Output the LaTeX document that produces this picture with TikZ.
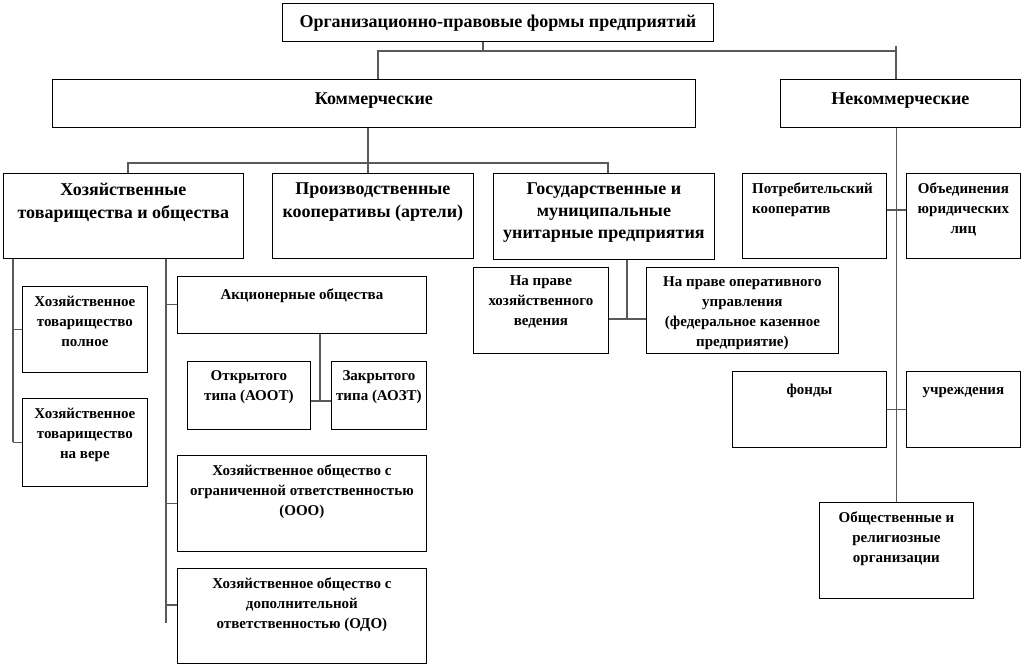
\documentclass[tikz,border=0pt]{standalone}
\usepackage{fontspec}
\setmainfont{Liberation Serif}
\begin{document}
\begin{tikzpicture}[x=1pt, y=-1pt,
    box/.style = {draw, line width=0.8pt, anchor=north west, inner sep=0pt},
    bigtxt/.style = {font=\bfseries\fontsize{18}{23}\selectfont},
    smalltxt/.style = {font=\bfseries\fontsize{15}{20}\selectfont},
    txt/.style = {anchor=north, yshift=-9.5pt, align=center, inner sep=0pt, execute at begin node=\strut},
    link/.style = {draw=black!65, line width=1.1pt}]
  \useasboundingbox (0,0) rectangle (1024,667);
  % top levels
  \node[box, minimum width=431pt, minimum height=38pt, label={[txt, bigtxt, yshift=1.5pt]north:Организационно-правовые формы предприятий}] (orgforms) at (282,3) {};
  \node[box, minimum width=643pt, minimum height=48pt, label={[txt, bigtxt]north:Коммерческие}] (comm) at (52,79) {};
  \node[box, minimum width=240pt, minimum height=48pt, label={[txt, bigtxt]north:Некоммерческие}] (noncomm) at (780,79) {};
  % commercial
  \node[box, minimum width=240pt, minimum height=85pt, label={[txt, bigtxt]north:Хозяйственные\\товарищества и общества}] (hto) at (3,173) {};
  \node[box, minimum width=201pt, minimum height=85pt, label={[txt, bigtxt]north:Производственные\\кооперативы (артели)}] (coop) at (272,173) {};
  \node[box, minimum width=221pt, minimum height=86pt, label={[txt, bigtxt, font=\bfseries\fontsize{18}{22}\selectfont]north:Государственные и\\муниципальные\\унитарные предприятия}] (unit) at (493,173) {};
  \node[box, minimum width=125pt, minimum height=86pt, label={[txt, smalltxt]north:Хозяйственное\\товарищество\\полное}] (fullp) at (22,286) {};
  \node[box, minimum width=125pt, minimum height=88pt, label={[txt, smalltxt]north:Хозяйственное\\товарищество\\на вере}] (limp) at (22,398) {};
  \node[box, minimum width=249pt, minimum height=57pt, label={[txt, smalltxt]north:Акционерные общества}] (jsc) at (177,276) {};
  \node[box, minimum width=123pt, minimum height=68pt, label={[txt, smalltxt]north:Открытого\\типа (АООТ)}] (open) at (187,361) {};
  \node[box, minimum width=95pt, minimum height=68pt, label={[txt, smalltxt]north:Закрытого\\типа (АОЗТ)}] (closed) at (331,361) {};
  \node[box, minimum width=249pt, minimum height=96pt, label={[txt, smalltxt]north:Хозяйственное общество с\\ограниченной ответственностью\\(ООО)}] (llc) at (177,455) {};
  \node[box, minimum width=249pt, minimum height=95pt, label={[txt, smalltxt]north:Хозяйственное общество с\\дополнительной\\ответственностью (ОДО)}] (alc) at (177,568) {};
  \node[box, minimum width=135pt, minimum height=86pt, label={[txt, smalltxt, yshift=1pt]north:На праве\\хозяйственного\\ведения}] (econ) at (473,267) {};
  \node[box, minimum width=192pt, minimum height=86pt, label={[txt, smalltxt]north:На праве оперативного\\управления\\(федеральное казенное\\предприятие)}] (oper) at (646,267) {};
  % non-commercial
  \node[box, minimum width=144pt, minimum height=85pt, label={[txt, smalltxt, anchor=north west, align=left, xshift=10pt]north west:Потребительский\\кооператив}] (consumer) at (742,173) {};
  \node[box, minimum width=114pt, minimum height=85pt, label={[txt, smalltxt]north:Объединения\\юридических\\лиц}] (union) at (906,173) {};
  \node[box, minimum width=154pt, minimum height=76pt, label={[txt, smalltxt]north:фонды}] (funds) at (732,371) {};
  \node[box, minimum width=114pt, minimum height=76pt, label={[txt, smalltxt]north:учреждения}] (inst) at (906,371) {};
  \node[box, minimum width=154pt, minimum height=96pt, label={[txt, smalltxt]north:Общественные и\\религиозные\\организации}] (relig) at (819,502) {};
  % connectors
  \coordinate (s0) at (483,51);
  \coordinate (s0l) at (378,51);
  \coordinate (s0r) at (896,46);
  \draw[link] (orgforms.south -| s0) -- (s0);
  \draw[link] (comm.north -| s0l) -- (s0l) -- (s0 -| s0r);
  \draw[link] (s0r) -- (s0r |- noncomm.north);
  \coordinate (s1) at (368,163);
  \coordinate (s1l) at (128,163);
  \coordinate (s1r) at (608,163);
  \draw[link] (comm.south -| s1) -- (coop.north -| s1);
  \draw[link] (hto.north -| s1l) -- (s1l) -- (s1r) -- (unit.north -| s1r);
  \coordinate (c1) at (13,442);
  \coordinate (c2) at (166,623);
  \coordinate (alcin) at (177,605);
  \draw[link] (hto.south -| c1) -- (c1);
  \draw[link] (c1 |- fullp.west) -- (fullp.west);
  \draw[link] (c1 |- limp.west) -- (limp.west);
  \draw[link] (hto.south -| c2) -- (c2);
  \draw[link] (c2 |- jsc.west) -- (jsc.west);
  \draw[link] (c2 |- llc.west) -- (llc.west);
  \draw[link] (c2 |- alcin) -- (alcin);
  \coordinate (s2) at (320,401);
  \draw[link] (jsc.south -| s2) -- (s2);
  \draw[link] (open.east |- s2) -- (closed.west |- s2);
  \coordinate (s3) at (627,319);
  \draw[link] (unit.south -| s3) -- (s3);
  \draw[link] (econ.east |- s3) -- (oper.west |- s3);
  \coordinate (s4) at (0,210);
  \draw[link] (relig.north |- noncomm.south) -- (relig.north);
  \draw[link] (consumer.east |- s4) -- (union.west |- s4);
  \draw[link] (funds.east) -- (inst.west);
\end{tikzpicture}
\end{document}
